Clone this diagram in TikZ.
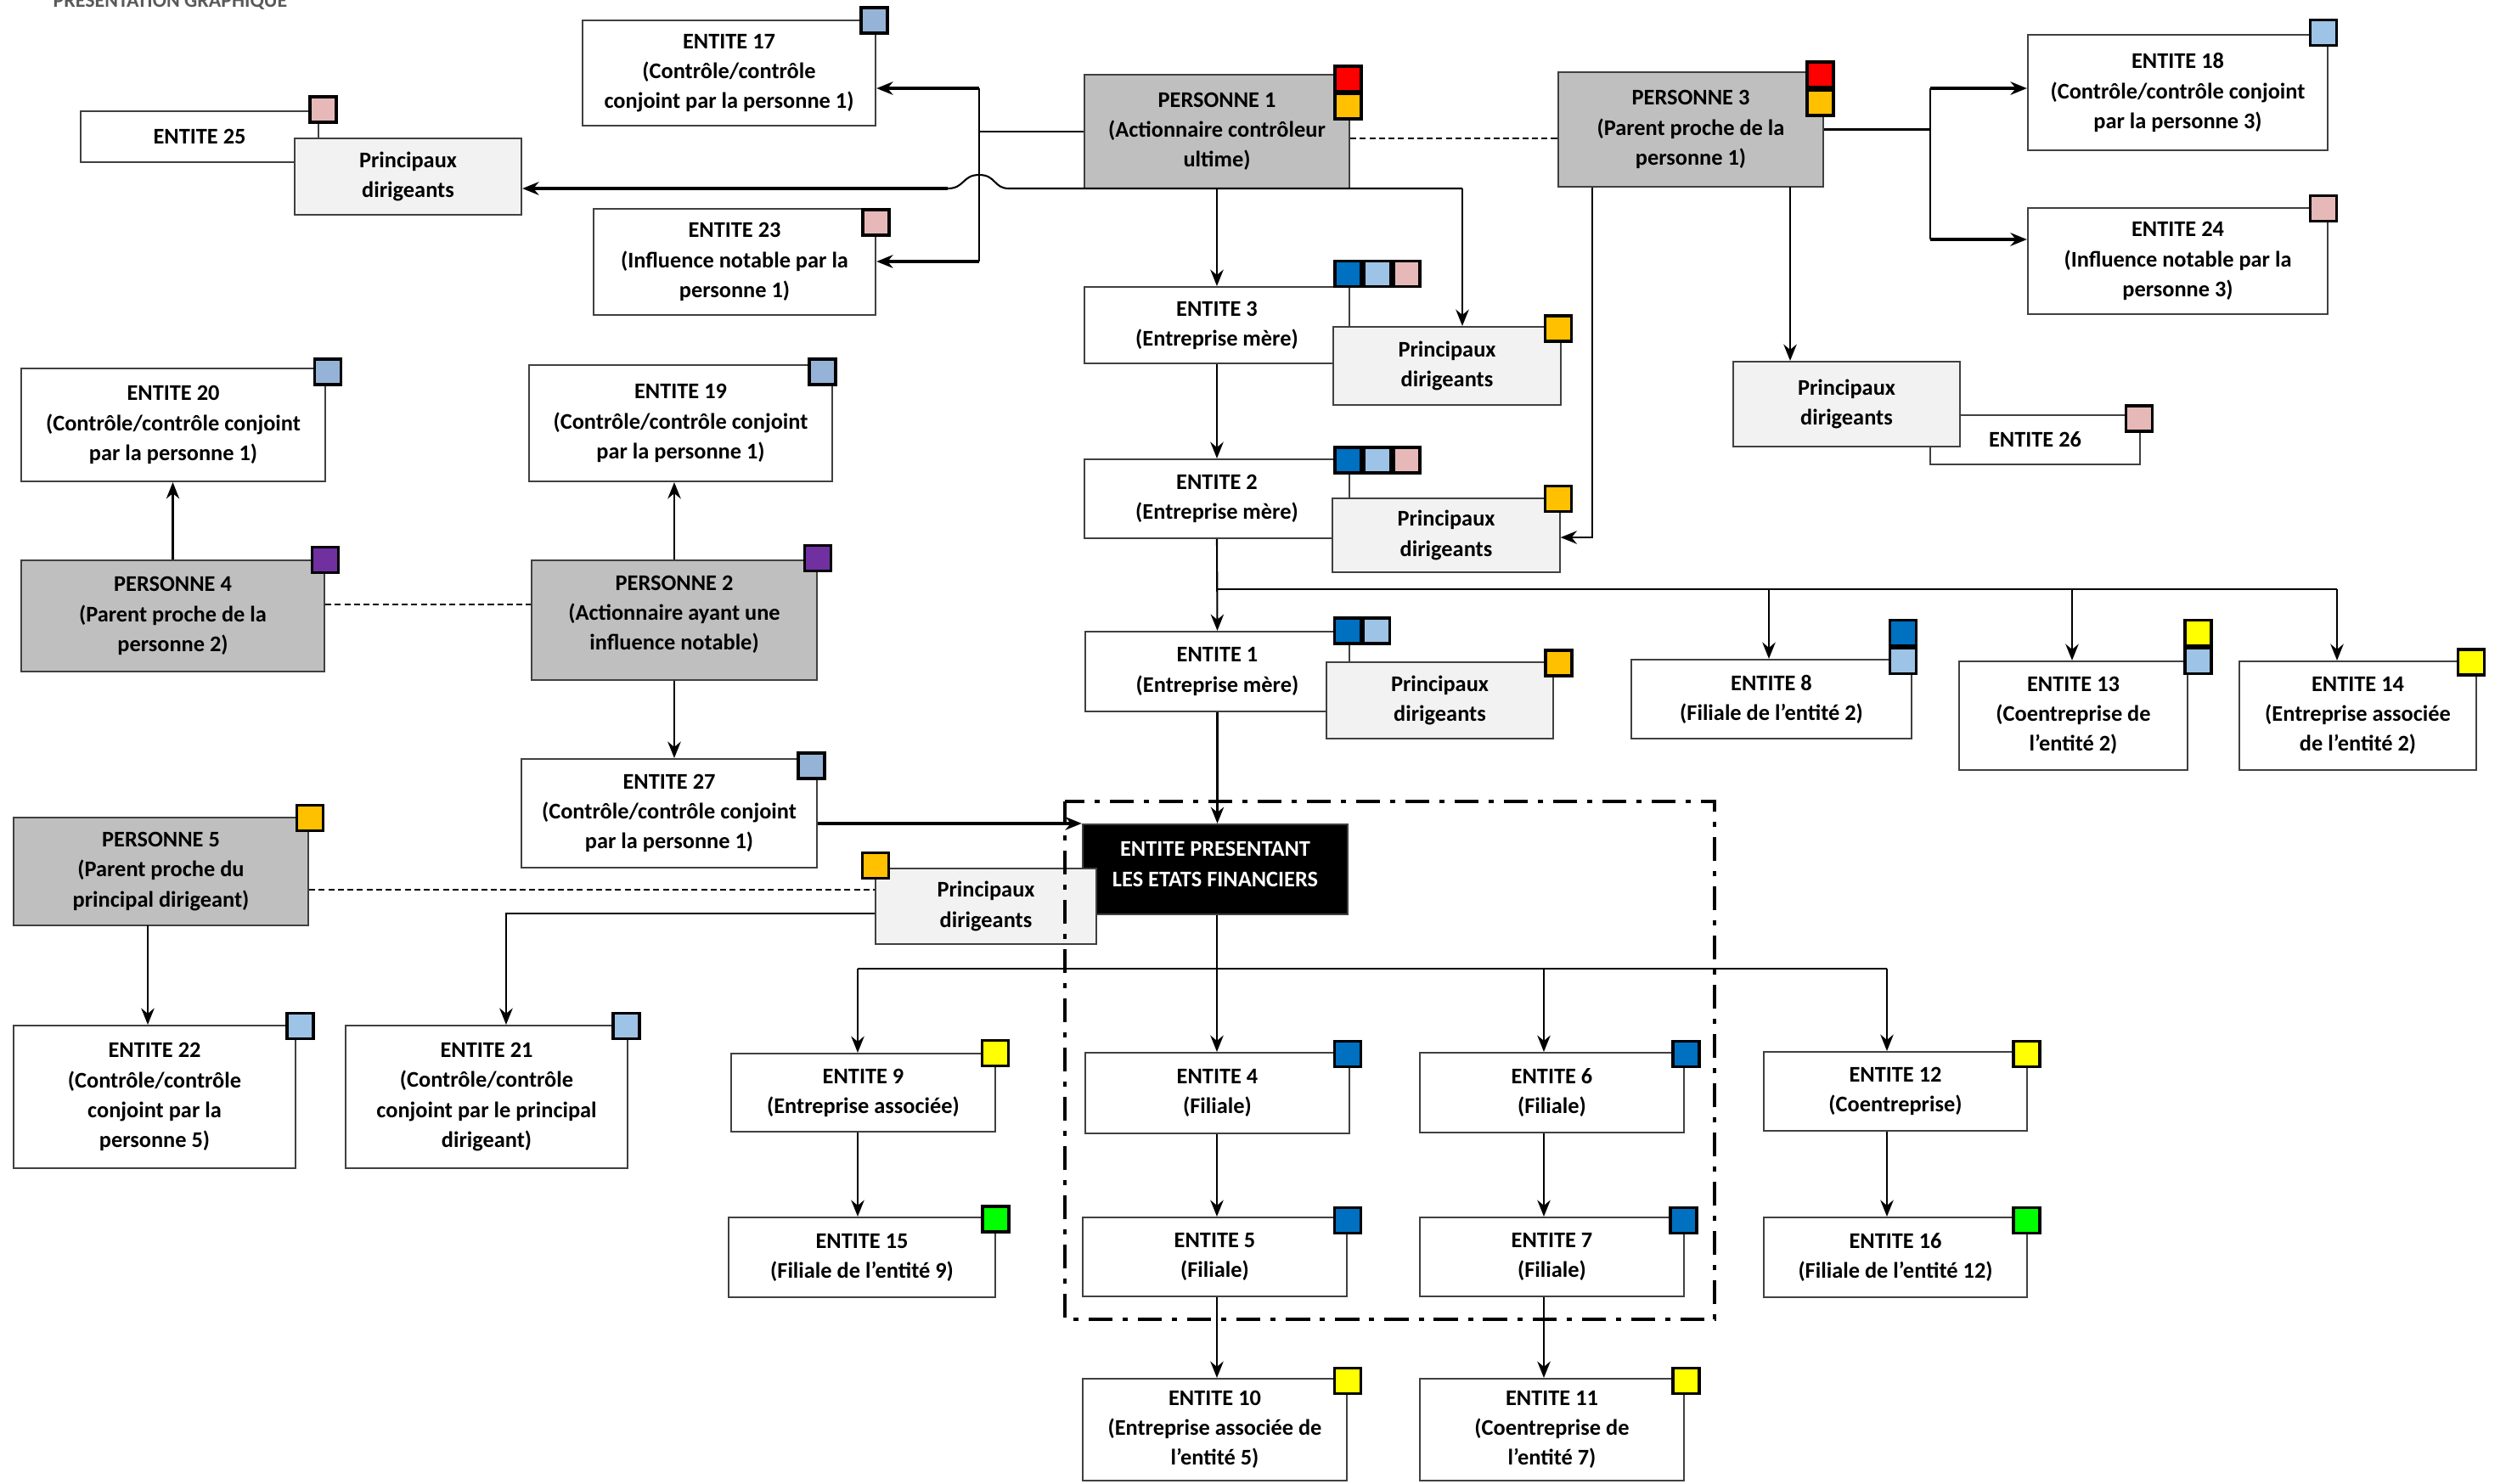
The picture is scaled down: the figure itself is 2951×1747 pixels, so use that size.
\documentclass[tikz,border=0pt]{standalone}
\usepackage{fontspec}
\setmainfont{Carlito}
\usetikzlibrary{arrows.meta}

\definecolor{persgray}{HTML}{BFBFBF}
\definecolor{dirgray}{HTML}{F2F2F2}
\definecolor{boxline}{HTML}{404040}
\definecolor{titlegray}{HTML}{595959}
\definecolor{sqred}{HTML}{FF0000}
\definecolor{sqorange}{HTML}{FFC000}
\definecolor{sqdark}{HTML}{0070C0}
\definecolor{sqlight}{HTML}{9DC3E6}
\definecolor{sqsteel}{HTML}{95B3D7}
\definecolor{sqpink}{HTML}{E6B9B8}
\definecolor{sqpurple}{HTML}{7030A0}
\definecolor{sqyellow}{HTML}{FFFF00}
\definecolor{sqgreen}{HTML}{00FF00}

\begin{document}
\begin{tikzpicture}[x=0.01cm, y=-0.01cm,
    every node/.style={font=\bfseries\fontsize{7.5}{10}\selectfont, align=center, inner sep=0pt},
    ent/.style={draw=boxline, line width=0.6pt, fill=white, rectangle},
    ent2/.style={ent, minimum width=3.11cm, minimum height=0.93cm},
    pers/.style={ent, fill=persgray},
    dir/.style={ent, fill=dirgray, minimum width=2.67cm, minimum height=0.9cm},
    sq/.style={draw=black, line width=1.1pt, minimum width=0.31cm, minimum height=0.3cm},
    lien/.style={line width=0.6pt},
    arr/.style={lien, -{Stealth[length=5.5pt, width=4.4pt, inset=1.8pt]}},
    arrthick/.style={arr, line width=1.1pt},
    tiret/.style={line width=0.5pt, dash pattern=on 2pt off 1.2pt},
    cadre/.style={line width=1.4pt, dash pattern=on 8pt off 3.4pt on 1.7pt off 3.4pt}]

    \useasboundingbox (0,0) rectangle (2951,1747);

    \node[anchor=base west, text=titlegray, font=\bfseries\fontsize{6.8}{8}\selectfont] (titre) at (62,8) {PRESENTATION GRAPHIQUE};

    \node[ent, minimum width=3.45cm, minimum height=1.24cm] (e17) at (858.5,86) {ENTITE 17\\(Contrôle/contrôle\\conjoint par la personne 1)};
    \node[ent, minimum width=2.8cm, minimum height=0.6cm] (e25) at (235,161) {ENTITE 25};
    \node[dir] (pd25) at (480.5,208) {Principaux\\dirigeants};
    \node[ent, minimum width=3.32cm, minimum height=1.25cm] (e23) at (865,308.5) {ENTITE 23\\(Influence notable par la\\personne 1)};
    \node[pers, minimum width=3.12cm, minimum height=1.34cm] (p1) at (1433,155) {PERSONNE 1\\(Actionnaire contrôleur\\ultime)};
    \node[pers, minimum width=3.12cm, minimum height=1.35cm] (p3) at (1991,152.5) {PERSONNE 3\\(Parent proche de la\\personne 1)};
    \node[ent, minimum width=3.53cm, minimum height=1.36cm] (e18) at (2564.5,109) {ENTITE 18\\(Contrôle/contrôle conjoint\\par la personne 3)};
    \node[ent, minimum width=3.53cm, minimum height=1.25cm] (e24) at (2564.5,307.5) {ENTITE 24\\(Influence notable par la\\personne 3)};
    \node[ent, minimum width=2.47cm, minimum height=0.58cm] (e26) at (2396.5,518) {ENTITE 26};
    \node[dir, minimum height=1cm] (pd26) at (2174.5,476) {Principaux\\dirigeants};

    \node[ent2, minimum width=3.12cm, minimum height=0.9cm] (e3) at (1433,383) {ENTITE 3\\(Entreprise mère)};
    \node[dir, minimum height=0.92cm] (pd3) at (1704,431) {Principaux\\dirigeants};
    \node[ent2, minimum width=3.12cm] (e2) at (1433,587.5) {ENTITE 2\\(Entreprise mère)};
    \node[dir, minimum height=0.87cm] (pd2) at (1703,630.5) {Principaux\\dirigeants};
    \node[ent2, minimum height=0.94cm] (e1) at (1433.5,791) {ENTITE 1\\(Entreprise mère)};
    \node[dir] (pd1) at (1695.5,825) {Principaux\\dirigeants};
    \node[ent2, minimum width=3.3cm] (e8) at (2086,823.5) {ENTITE 8\\(Filiale de l’entité 2)};
    \node[ent, minimum width=2.69cm, minimum height=1.28cm] (e13) at (2441.5,843) {ENTITE 13\\(Coentreprise de\\l’entité 2)};
    \node[ent, minimum width=2.79cm, minimum height=1.28cm] (e14) at (2776.5,843) {ENTITE 14\\(Entreprise associée\\de l’entité 2)};

    \node[ent, minimum width=3.58cm, minimum height=1.33cm] (e20) at (204,500.5) {ENTITE 20\\(Contrôle/contrôle conjoint\\par la personne 1)};
    \node[ent, minimum width=3.57cm, minimum height=1.37cm] (e19) at (801.5,498.5) {ENTITE 19\\(Contrôle/contrôle conjoint\\par la personne 1)};
    \node[pers, minimum width=3.57cm, minimum height=1.31cm] (p4) at (203.5,725.5) {PERSONNE 4\\(Parent proche de la\\personne 2)};
    \node[pers, minimum width=3.36cm, minimum height=1.41cm] (p2) at (794,730.5) {};
    \node (p2t) at (794,724) {PERSONNE 2\\(Actionnaire ayant une\\influence notable)};
    \node[ent, minimum width=3.48cm, minimum height=1.28cm] (e27) at (788,958) {ENTITE 27\\(Contrôle/contrôle conjoint\\par la personne 1)};
    \node[pers, minimum width=3.47cm, minimum height=1.27cm] (p5) at (189.5,1026.5) {PERSONNE 5\\(Parent proche du\\principal dirigeant)};

    \node[ent, fill=black, minimum width=3.12cm, minimum height=1.06cm] (epef) at (1431,1024) {};
    \node[text=white] (epeft) at (1431,1018) {ENTITE PRESENTANT\\LES ETATS FINANCIERS};
    \node[dir, minimum width=2.6cm, minimum height=0.89cm] (pde) at (1161,1067.5) {Principaux\\dirigeants};

    \node[ent, minimum width=3.32cm, minimum height=1.68cm] (e22) at (182,1292) {ENTITE 22\\(Contrôle/contrôle\\conjoint par la\\personne 5)};
    \node[ent, minimum width=3.32cm, minimum height=1.68cm] (e21) at (573,1292) {ENTITE 21\\(Contrôle/contrôle\\conjoint par le principal\\dirigeant)};
    \node[ent2, minimum height=0.92cm] (e9) at (1016.5,1287) {ENTITE 9\\(Entreprise associée)};
    \node[ent2, minimum width=3.14cm, minimum height=0.94cm] (e15) at (1015,1481) {ENTITE 15\\(Filiale de l’entité 9)};
    \node[ent2, minimum height=0.95cm] (e4) at (1433.5,1287.5) {ENTITE 4\\(Filiale)};
    \node[ent2, minimum height=0.94cm] (e6) at (1827.5,1287) {ENTITE 6\\(Filiale)};
    \node[ent2, minimum width=3.1cm] (e12) at (2232,1285.5) {ENTITE 12\\(Coentreprise)};
    \node[ent2] (e5) at (1430.5,1480.5) {ENTITE 5\\(Filiale)};
    \node[ent2] (e7) at (1827.5,1480.5) {ENTITE 7\\(Filiale)};
    \node[ent2, minimum width=3.1cm, minimum height=0.94cm] (e16) at (2232,1481) {ENTITE 16\\(Filiale de l’entité 12)};
    \node[ent2, minimum height=1.2cm] (e10) at (1430.5,1684) {ENTITE 10\\(Entreprise associée de\\l’entité 5)};
    \node[ent2, minimum height=1.2cm] (e11) at (1827.5,1684) {ENTITE 11\\(Coentreprise de\\l’entité 7)};

    \coordinate (k1) at (1153,104);
    \coordinate (k2) at (1153,308);
    \draw[lien] (p1.west) -- (p1.west -| k1);
    \draw[lien] (k1) -- (k2);
    \draw[arrthick] (k1) -- (k1 -| e17.east);
    \draw[arrthick] (k2) -- (k2 -| e23.east);

    \coordinate (j1) at (1722,222);
    \coordinate (jr) at (1188,222);
    \coordinate (jl) at (1116,222);
    \draw[arr] (j1) -- (j1 |- pd3.north);
    \draw[lien] (j1) -- (jr) .. controls (1170,222) and (1173,206) .. (1153,206) .. controls (1133,206) and (1136,222) .. (jl);
    \draw[arrthick] (jl) -- (jl -| pd25.east);

    \draw[arr] (p1.south) -- (e3.north);
    \draw[arr] (e3.south) -- (e2.north);
    \draw[arr] (e2.south) -- (e1.north);
    \coordinate (h1) at (1433,694);
    \coordinate (b14) at (2752,694);
    \draw[lien] (h1) -- (b14);
    \foreach \n/\x in {e8/2083, e13/2440, e14/2752}
      {
        \draw[arr] (\x,694) -- (\x,694 |- \n.north);
      }

    \coordinate (k3) at (2273,104);
    \coordinate (k4) at (2273,282);
    \draw[lien] (p3.east) -- (p3.east -| k3);
    \draw[lien] (k3) -- (k4);
    \draw[arrthick] (k3) -- (k3 -| e18.west);
    \draw[arrthick] (k4) -- (k4 -| e24.west);
    \coordinate (k5) at (2108,220);
    \draw[arr] (k5) -- (k5 |- pd26.north);
    \coordinate (k6) at (1875,633);
    \draw[arr] (k6 |- p3.south) -- (k6) -- (k6 -| pd2.east);
    \draw[tiret] (p1.east |- 0,163) -- (p3.west |- 0,163);

    \draw[arr] (p4.north) -- (p4.north |- e20.south);
    \draw[arr] (p2.north) -- (p2.north |- e19.south);
    \draw[arr] (p2.south) -- (p2.south |- e27.north);
    \draw[tiret] (p4.east |- 0,712) -- (p2.west |- 0,712);
    \draw[arrthick] (e27.east |- epef.north west) -- (epef.north west);
    \draw[arr] (e1.south) -- (e1.south |- epef.north);

    \coordinate (k7) at (174,1090);
    \draw[arr] (k7) -- (k7 |- e22.north);
    \draw[tiret] (p5.east |- 0,1048) -- (pde.west |- 0,1048);
    \coordinate (k8) at (596,1076);
    \draw[arr] (k8 -| pde.west) -- (k8) -- (k8 |- e21.north);

    \coordinate (h2) at (1433,1141);
    \coordinate (h9) at (1010,1141);
    \coordinate (h12) at (2222,1141);
    \draw[lien] (h2 |- epef.south) -- (h2);
    \draw[lien] (h9) -- (h12);
    \foreach \n/\x in {e9/1010, e4/1433, e6/1818, e12/2222}
      {
        \draw[arr] (\x,1141) -- (\x,1141 |- \n.north);
      }
    \foreach \a/\b/\x in {e9/e15/1010, e4/e5/1433, e5/e10/1433, e6/e7/1818, e7/e11/1818, e12/e16/2222}
      {
        \draw[arr] (\x,0 |- \a.south) -- (\x,0 |- \b.north);
      }

    \foreach \x/\y/\c [count=\i] in {1029.5/24/sqsteel, 380.5/129/sqpink, 1031.5/262/sqpink,
        1587.5/93/sqred, 1587.5/125/sqorange, 2143.5/88/sqred, 2143.5/121/sqorange,
        2736/38.5/sqlight, 2736/245.5/sqpink, 2519/493/sqpink,
        1587.5/322.5/sqdark, 1622/322.5/sqlight, 1656.5/322.5/sqpink, 1835/387/sqorange,
        1587.5/542/sqdark, 1622/542/sqlight, 1656.5/542/sqpink, 1835/587.5/sqorange,
        1587/743/sqdark, 1621/743/sqlight, 1835.5/781/sqorange,
        2241/745.5/sqdark, 2241/778.5/sqlight, 2588.5/745.5/sqyellow, 2588.5/778.5/sqlight, 2910/780/sqyellow,
        386/438/sqsteel, 968.5/438/sqsteel, 383/659.5/sqpurple, 963/657.5/sqpurple,
        955.5/902/sqsteel, 365/963.5/sqorange, 1031/1019.5/sqorange,
        353.5/1208.5/sqlight, 737.5/1208.5/sqlight, 1172/1240.5/sqyellow, 1172.5/1436/sqgreen,
        1587/1241.5/sqdark, 1985.5/1241.5/sqdark, 2386.5/1241.5/sqyellow,
        1587/1437.5/sqdark, 1982.5/1437.5/sqdark, 2386.5/1437.5/sqgreen,
        1587/1626.5/sqyellow, 1985.5/1626.5/sqyellow}
      {
        \node[sq, fill=\c] (sq\i) at (\x,\y) {};
      }

    \draw[cadre] (1254,944) rectangle (2019,1554);
  \end{tikzpicture}
\end{document}
